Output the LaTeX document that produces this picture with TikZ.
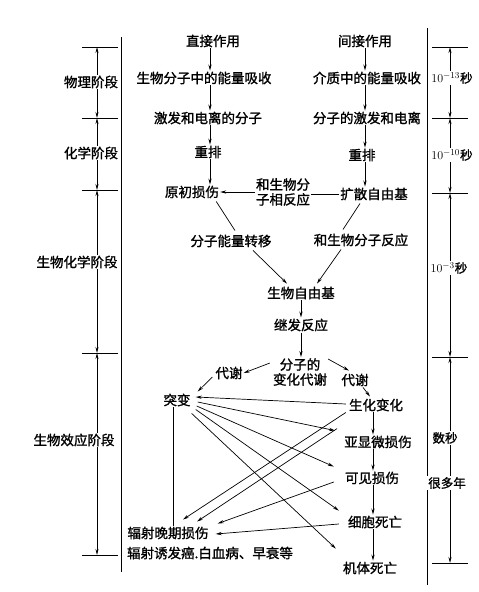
\documentclass[tikz,border=0pt]{standalone}
\usepackage{fontspec}
\newfontfamily\cjk[AutoFakeBold=1.3]{Noto Sans CJK SC}
\usetikzlibrary{arrows.meta,calc}
\tikzset{
  lbl/.style={font=\cjk\bfseries\fontsize{13.5}{15}\selectfont, inner sep=1pt, align=center},
  axlbl/.style={lbl, fill=white, inner sep=1pt},
  tlbl/.style={font=\cjk\bfseries\fontsize{12.5}{14}\selectfont, fill=white, inner sep=1pt},
  arr/.style={draw, line width=0.7pt, -{Stealth[length=6pt,width=3.2pt]}},
  plain/.style={draw, line width=0.7pt},
  axis/.style={draw, line width=0.8pt},
  dim/.style={draw, line width=0.8pt, {Stealth[length=6pt,width=3pt]}-{Stealth[length=6pt,width=3pt]}},
  thin/.style={draw, line width=0.5pt}
}
\begin{document}
\begin{tikzpicture}[x=1pt,y=-1pt]
\useasboundingbox[fill=white] (0,0) rectangle (479,592);
% frame lines
\draw[thin] (121,37) -- (121,572);
\draw[axis] (427,28) -- (427,585);
% left axis
\foreach \y in {47,118,190,353,555} \draw[thin] (82,\y) -- (118,\y);
\draw[dim] (97,47) -- (97,118);
\draw[dim] (97,118) -- (97,190);
\draw[dim] (97,190) -- (97,353);
\draw[dim] (97,353) -- (97,555);
% right axis
\foreach \y in {47,118,193,357,563} \draw[thin] (432,\y) -- (468,\y);
\draw[dim] (450,47) -- (450,118);
\draw[dim] (450,118) -- (450,193);
\draw[dim] (450,193) -- (450,357);
\draw[dim] (450,357) -- (450,563);
% axis labels
\node[axlbl] (wl) at (91,82) {物理阶段};
\node[axlbl] (hx) at (91,153) {化学阶段};
\node[axlbl] (shx) at (77,262) {生物化学阶段};
\node[axlbl] (swxy) at (74,440) {生物效应阶段};
\node[tlbl] (t1) at (452,78) {\(10^{-13}\)秒};
\node[tlbl] (t2) at (452,155) {\(10^{-10}\)秒};
\node[tlbl] (t3) at (449,268) {\(10^{-3}\)秒};
\node[tlbl] (t4) at (445,438) {数秒};
\node[tlbl] (t5) at (447,483) {很多年};
% main nodes
\node[lbl] (zhijie) at (213,41) {直接作用};
\node[lbl] (jianjie) at (365,41) {间接作用};
\node[lbl] (swfz) at (204,78) {生物分子中的能量吸收};
\node[lbl] (jiezhi) at (367,78) {介质中的能量吸收};
\node[lbl] (jifaL) at (208,118) {激发和电离的分子};
\node[lbl] (jifaR) at (367,118) {分子的激发和电离};
\node[lbl] (cpL) at (208,152) {重排};
\node[lbl] (cpR) at (362,155) {重排};
\node[lbl] (yuanchu) at (192,192) {原初损伤};
\node[lbl] (hesw) at (283,192) {和生物分\\子相反应};
\node[lbl] (kuosan) at (374,194) {扩散自由基};
\node[lbl] (fznl) at (231,241) {分子能量转移};
\node[lbl] (heswfz) at (361,240) {和生物分子反应};
\node[lbl] (swzyj) at (301,293) {生物自由基};
\node[lbl] (jifa) at (301,325) {继发反应};
\node[lbl] (fzbh) at (300,372) {分子的\\变化代谢};
\node[lbl] (dxL) at (229,373) {代谢};
\node[lbl] (dxR) at (355,380) {代谢};
\node[lbl] (tubian) at (177,400) {突变};
\node[lbl] (shbh) at (376,405) {生化变化};
\node[lbl] (yxw) at (378,442) {亚显微损伤};
\node[lbl] (kj) at (372,478) {可见损伤};
\node[lbl] (xb) at (375,522) {细胞死亡};
\node[lbl] (jt) at (370,568) {机体死亡};
\node[lbl] (fswq) at (168,533) {辐射晚期损伤};
\node[lbl] (fsyf) at (210,553) {辐射诱发癌.白血病、早衰等};
% column coordinates
\coordinate (lc) at (210,0);
\coordinate (rc) at (365,0);
\coordinate (bc) at (301,0);
\coordinate (vc) at (373,0);
% left column
\draw[arr] (zhijie.south -| lc) -- (swfz.north -| lc);
\draw[arr] (swfz.south -| lc) -- (jifaL.north -| lc);
\draw[arr] (jifaL.south -| lc) -- (cpL.north -| lc);
\draw[arr] (cpL.south -| lc) -- (yuanchu.north -| lc);
% right column
\draw[arr] (jianjie.south -| rc) -- (jiezhi.north -| rc);
\draw[arr] (jiezhi.south -| rc) -- (jifaR.north -| rc);
\draw[arr] (jifaR.south -| rc) -- (cpR.north -| rc);
\draw[arr] (cpR.south -| rc) -- (kuosan.north -| rc);
% cross reaction
\draw[plain] (kuosan.west) -- (hesw.east |- kuosan.west);
\draw[arr] (hesw.west |- yuanchu.east) -- (yuanchu.east);
% to molecular level
\draw[plain] ($(yuanchu.south east)+(-4,2)$) -- ($(fznl.north)+(4,-3)$);
\draw[plain] ($(kuosan.south)+(-14,2)$) -- ($(heswfz.north)+(-18,-3)$);
\draw[arr] ($(fznl.south)+(22,2)$) -- ($(swzyj.north)+(-14,-2)$);
\draw[arr] ($(heswfz.south)+(-20,2)$) -- ($(swzyj.north)+(16,-2)$);
\draw[arr] (swzyj.south -| bc) -- (jifa.north -| bc);
\draw[arr] (jifa.south -| bc) -- (fzbh.north -| bc);
% metabolism
\draw[arr] ($(fzbh.north west)+(-2,6)$) -- (dxL.east);
\draw[arr] ($(dxL.west)+(-2,4)$) -- ($(tubian.north east)+(6,-1)$);
\draw[arr] ($(fzbh.north east)+(0,2)$) -- ($(dxR.north)+(-6,-2)$);
\draw[arr] ($(dxR.south)+(8,0)$) -- ($(shbh.north)+(-6,-1)$);
% right vertical chain
\draw[arr] (shbh.south -| vc) -- (yxw.north -| vc);
\draw[arr] (yxw.south -| vc) -- (kj.north -| vc);
\draw[arr] (kj.south -| vc) -- (xb.north -| vc);
\draw[arr] (xb.south -| vc) -- (jt.north -| vc);
% mutation links
\draw[plain] ($(tubian.south)+(-4,0)$) -- ($(fswq.north)+(5,0)$);
\draw[arr] ($(shbh.west)+(-2,-1)$) -- ($(tubian.east)+(4,-3)$);
\draw[arr] ($(tubian.east)+(6,2)$) -- ($(yxw.north west)+(-8,-4)$);
\draw[arr] ($(tubian.east)+(5,6)$) -- ($(kj.north west)+(-10,-4)$);
\draw[arr] ($(tubian.south east)+(4,2)$) -- ($(xb.north west)+(-8,-4)$);
\draw[arr] ($(tubian.south east)+(0,6)$) -- ($(jt.north west)+(-6,-12)$);
% to late damage
\draw[arr] ($(shbh.south west)+(-2,0)$) -- ($(fswq.north)+(15,-6)$);
\draw[arr] ($(yxw.north west)+(-6,-6)$) -- ($(fswq.north)+(29,-4)$);
\draw[arr] ($(kj.west)+(-10,4)$) -- ($(fswq.north east)+(8,-2)$);
\draw[arr] ($(xb.west)+(-8,2)$) -- ($(fswq.east)+(6,1)$);
\end{tikzpicture}
\end{document}
